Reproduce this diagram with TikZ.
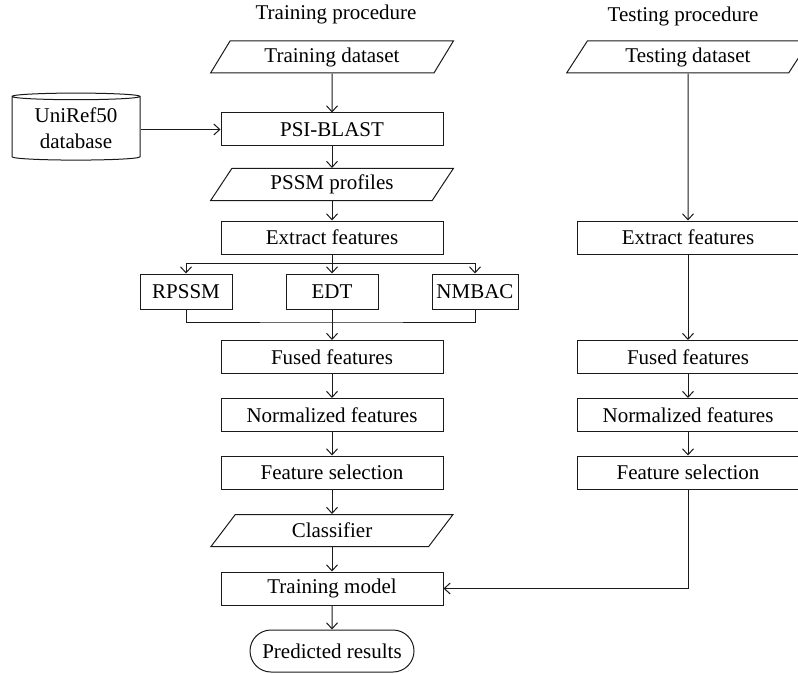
\documentclass[tikz,border=0pt]{standalone}
\usepackage{fontspec}
\setmainfont{Liberation Serif}
\usetikzlibrary{arrows.meta,positioning,shapes.geometric,shapes.misc}
\definecolor{fcink}{HTML}{1A1A1A}

\begin{document}
\begin{tikzpicture}[x=1pt,y=-1pt,font=\fontsize{21}{26}\selectfont,
    procbox/.style={draw=fcink,line width=1pt,minimum width=222pt,minimum height=33pt,inner sep=0pt},
    iobox/.style={draw=fcink,line width=1pt,trapezium,trapezium left angle=56,trapezium right angle=124,trapezium stretches=true,minimum width=243pt,minimum height=32pt,inner sep=0pt},
    featbox/.style={draw=fcink,line width=1pt,minimum height=35pt,inner sep=0pt},
    flow/.style={-{Straight Barb[length=6pt,width=11pt]},fcink,line width=1pt},
    link/.style={fcink,line width=1pt}]
      \useasboundingbox (0,0) rectangle (798,674);
      % titles
      \node (trtitle) at (336,14) {Training procedure};
      \node (tetitle) at (683,16) {Testing procedure};
      % training procedure
      \node[iobox] (trdata) at (332,57) {Training dataset};
      \node[draw=fcink,line width=1pt,cylinder,shape border rotate=90,aspect=0.08,minimum width=128pt,minimum height=67pt,align=center,inner sep=0pt] (uniref) at (76,128.5) {UniRef50\\database};
      \node[procbox] (blast) at (332,129.5) {PSI-BLAST};
      \node[iobox] (pssm) at (332,184.5) {PSSM profiles};
      \node[procbox] (extr) at (332,237.5) {Extract features};
      \node[featbox,minimum width=92pt] (rpssm) at (186,291.5) {RPSSM};
      \node[featbox,minimum width=92pt] (edt) at (332,291.5) {EDT};
      \node[featbox,minimum width=86pt] (nmbac) at (475,291.5) {NMBAC};
      \node[procbox] (fused) at (332,357) {Fused features};
      \node[procbox] (norm) at (332,415) {Normalized features};
      \node[procbox] (fsel) at (332,472.5) {Feature selection};
      \node[iobox] (clf) at (332,530.5) {Classifier};
      \node[procbox] (model) at (332,588.5) {Training model};
      \node[draw=fcink,line width=1pt,rounded rectangle,minimum width=164pt,minimum height=42pt,inner sep=0pt] (pred) at (332,651) {Predicted results};
      % testing procedure
      \node[iobox] (tedata) at (688,57) {Testing dataset};
      \node[procbox] (textr) at (688,237.5) {Extract features};
      \node[procbox] (tfused) at (688,357) {Fused features};
      \node[procbox] (tnorm) at (688,415) {Normalized features};
      \node[procbox] (tfsel) at (688,472.5) {Feature selection};
      \coordinate (split) at (332,263);
      \coordinate (join) at (332,322);
      % connectors
      \draw[flow] (trdata) -- (blast);
      \draw[flow] (uniref.east |- blast.west) -- (blast.west);
      \draw[flow] (blast) -- (pssm);
      \draw[flow] (pssm) -- (extr);
      \draw[link] (extr) -- (split);
      \draw[flow] (split) -| (rpssm);
      \draw[flow] (split) -- (edt);
      \draw[flow] (split) -| (nmbac);
      \draw[link] (rpssm) |- (join) -| (nmbac);
      \draw[flow] (edt) -- (fused);
      \draw[flow] (fused) -- (norm);
      \draw[flow] (norm) -- (fsel);
      \draw[flow] (fsel) -- (clf);
      \draw[flow] (clf) -- (model);
      \draw[flow] (model) -- (pred);
      \draw[flow] (tedata) -- (textr);
      \draw[flow] (textr) -- (tfused);
      \draw[flow] (tfused) -- (tnorm);
      \draw[flow] (tnorm) -- (tfsel);
      \draw[flow] (tfsel) |- (model);
    \end{tikzpicture}
\end{document}
